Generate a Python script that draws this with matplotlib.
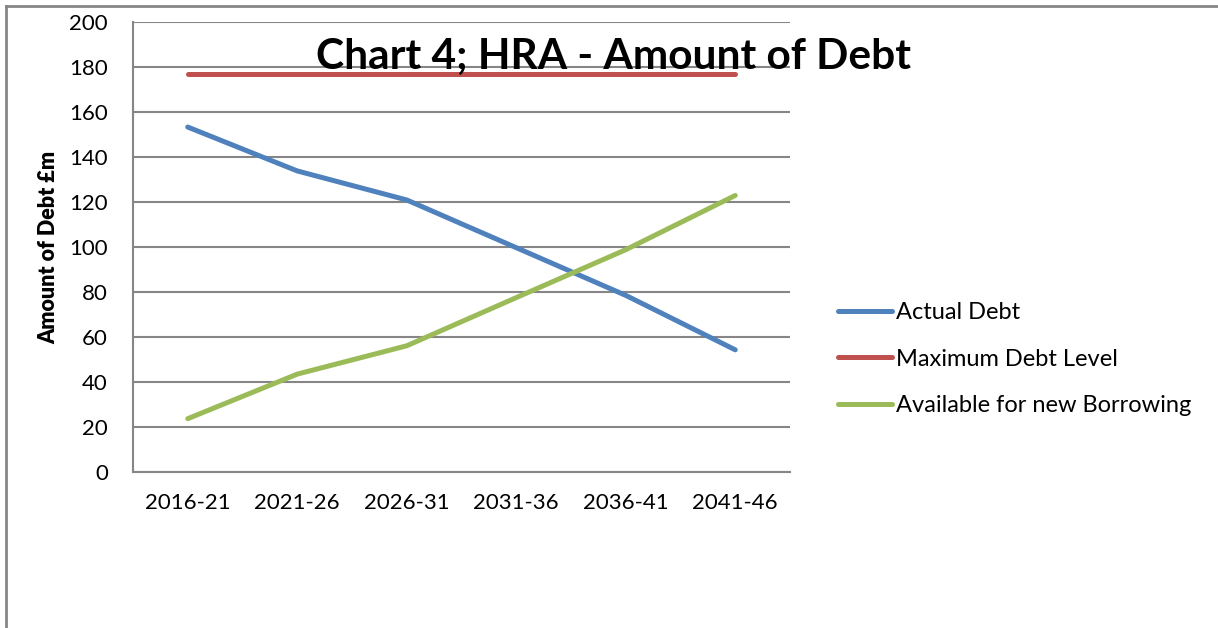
import matplotlib.pyplot as plt
from matplotlib.lines import Line2D

plt.rcParams['font.family'] = ['Lato', 'DejaVu Sans']

# data (£m)
periods = ['2016-21', '2021-26', '2026-31', '2031-36', '2036-41', '2041-46']
actual_debt = [153.3, 133.8, 120.9, 99.7, 78.5, 54.3]
max_debt = [177.0, 177.0, 177.0, 177.0, 177.0, 177.0]
available = [23.7, 43.5, 56.1, 77.5, 98.8, 122.9]

fig = plt.figure(figsize=(12.18, 6.28), dpi=100)
ax = fig.add_axes([0.1092, 0.2484, 0.5394, 0.7166])

x = range(len(periods))
ax.plot(x, actual_debt, color='#4F81BD', lw=3.6, solid_capstyle='round', label='Actual Debt')
ax.plot(x, max_debt, color='#C0504D', lw=3.6, solid_capstyle='round', label='Maximum Debt Level')
ax.plot(x, available, color='#9BBB59', lw=3.6, solid_capstyle='round', label='Available for new Borrowing')

ax.set_xlim(-0.5, len(periods) - 0.5)
ax.set_ylim(0, 200)
ax.set_yticks(range(0, 201, 20))
ax.set_xticks(list(x))
ax.set_xticklabels(periods)
ax.tick_params(length=0, labelsize=16)
ax.tick_params(axis='x', pad=15)
ax.tick_params(axis='y', pad=18)
ax.grid(axis='y', color='#868686', lw=1.5)
ax.set_axisbelow(True)
for s in ['top', 'right']:
    ax.spines[s].set_visible(False)
for s in ['left', 'bottom']:
    ax.spines[s].set_color('#868686')
    ax.spines[s].set_linewidth(1.5)

ax.set_ylabel('Amount of Debt £m', fontsize=15.5, fontweight='heavy', labelpad=7)

fig.text(0.504, 0.909, 'Chart 4; HRA - Amount of Debt', fontsize=30.5, fontweight='bold',
         ha='center', va='center', zorder=10)

fig.legend(loc='center left', bbox_to_anchor=(0.688, 0.428), frameon=False, fontsize=17,
           borderpad=0, borderaxespad=0,
           handlelength=2.3, handletextpad=0.15, labelspacing=1.08)

# chart border (left and top edges)
fig.add_artist(Line2D([0.005, 0.005], [0, 0.99], color='#868686', lw=2))
fig.add_artist(Line2D([0.005, 1], [0.99, 0.99], color='#868686', lw=2))

fig.savefig('out.png', dpi=100)
